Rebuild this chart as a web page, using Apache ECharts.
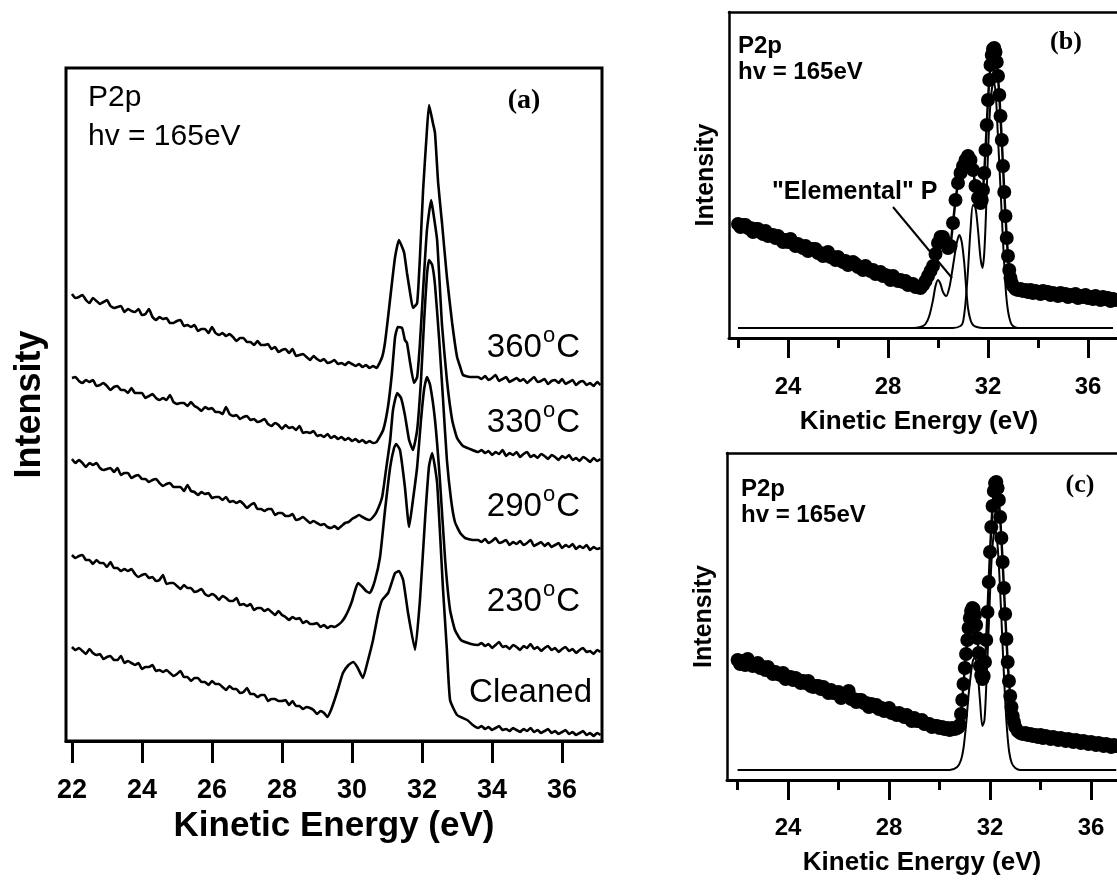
<!DOCTYPE html>
<html>
<head>
<meta charset="utf-8">
<title>P2p spectra</title>
<script src="https://cdn.jsdelivr.net/npm/echarts@6/dist/echarts.min.js"></script>
<style>
  html, body { margin: 0; padding: 0; background: #fff; }
  #main { width: 1117px; height: 882px; }
</style>
</head>
<body>
<div id="main"></div>
<script>
// tick positions
const ticksA = [22, 24, 26, 28, 30, 32, 34, 36];
const ticksMajor = [24, 28, 32, 36];
const ticksMinor = [22, 26, 30, 34];

// panel (a): [kinetic energy (eV), intensity (arb.)], curves offset vertically as in the figure
const t360 = [[22.0,447],[22.1,443],[22.2,444],[22.3,446],[22.4,441],[22.5,438],[22.6,443],[22.7,440],[22.8,437],[22.9,439],[23.0,441],[23.1,435],[23.2,433],[23.3,434],[23.4,435],[23.5,429],[23.6,432],[23.7,430],[23.8,429],[23.9,432],[24.0,426],[24.1,427],[24.2,432],[24.3,424],[24.4,421],[24.5,424],[24.6,422],[24.7,423],[24.8,418],[24.9,418],[25.0,420],[25.1,421],[25.2,415],[25.3,416],[25.4,414],[25.5,416],[25.6,410],[25.7,412],[25.8,412],[25.9,408],[26.0,414],[26.1,408],[26.2,406],[26.3,408],[26.4,405],[26.5,407],[26.6,404],[26.7,400],[26.8,403],[26.9,403],[27.0,399],[27.1,399],[27.2,396],[27.3,400],[27.4,396],[27.5,396],[27.6,397],[27.7,392],[27.8,394],[27.9,389],[28.0,391],[28.1,392],[28.2,388],[28.3,392],[28.4,385],[28.5,386],[28.6,387],[28.7,384],[28.8,381],[28.9,385],[29.0,382],
  [29.1,380],[29.2,382],[29.3,378],[29.4,379],[29.5,381],[29.6,377],[29.7,378],[29.8,376],[29.9,379],[30.0,377],[30.1,375],[30.2,377],[30.3,374],[30.4,376],[30.5,373],[30.6,375],[30.7,373],
  [30.86,384],[30.94,398],[31.03,424],[31.14,458],[31.23,484],[31.34,501],[31.43,494],[31.49,488],[31.57,468],[31.66,448],[31.74,433],[31.86,438],[31.94,484],[32.03,551],[32.14,611],[32.2,636],[32.31,618],[32.37,608],[32.46,558],[32.57,518],[32.71,464],[32.86,418],[33.0,384],[33.09,374],[33.17,366],[33.37,364],
  [33.6,364],[33.7,362],[33.8,365],[33.9,361],[34.0,363],[34.1,366],[34.2,360],[34.3,362],[34.4,364],[34.5,359],[34.6,361],[34.7,363],[34.8,360],[34.9,362],[35.0,358],[35.1,361],[35.2,364],[35.3,359],[35.4,360],[35.5,362],[35.6,357],[35.7,360],[35.8,361],[35.9,358],[36.0,362],[36.1,357],[36.2,359],[36.3,361],[36.4,356],[36.5,359],[36.6,360],[36.7,356],[36.8,358],[36.9,355],[37.0,359],[37.1,356]];
const t330 = [[22.0,363],[22.1,364],[22.2,360],[22.3,358],[22.4,361],[22.5,359],[22.6,361],[22.7,355],[22.8,356],[22.9,358],[23.0,355],[23.1,351],[23.2,354],[23.3,355],[23.4,351],[23.5,351],[23.6,348],[23.7,353],[23.8,348],[23.9,348],[24.0,348],[24.1,343],[24.2,345],[24.3,347],[24.4,343],[24.5,341],[24.6,343],[24.7,341],[24.8,346],[24.9,339],[25.0,337],[25.1,338],[25.2,338],[25.3,335],[25.4,339],[25.5,335],[25.6,333],[25.7,330],[25.8,334],[25.9,332],[26.0,333],[26.1,329],[26.2,329],[26.3,327],[26.4,334],[26.5,327],[26.6,325],[26.7,326],[26.8,322],[26.9,324],[27.0,325],[27.1,321],[27.2,322],[27.3,319],[27.4,320],[27.5,322],[27.6,317],[27.7,315],[27.8,318],[27.9,316],[28.0,312],[28.1,316],[28.2,313],[28.3,314],[28.4,311],[28.5,315],[28.6,308],[28.7,309],[28.8,308],[28.9,310],[29.0,305],
  [29.1,306],[29.2,304],[29.3,307],[29.4,303],[29.5,305],[29.6,302],[29.7,304],[29.8,301],[29.9,303],[30.0,300],[30.1,302],[30.2,299],[30.3,301],[30.4,298],[30.5,300],[30.6,298],[30.7,299],
  [30.89,311],[31.03,335],[31.14,368],[31.23,404],[31.31,414],[31.43,413],[31.51,401],[31.57,398],[31.66,378],[31.77,358],[31.86,364],[31.94,398],[32.03,451],[32.14,511],[32.26,541],[32.31,531],[32.43,501],[32.57,416],[32.71,361],[32.86,321],[33.0,303],[33.17,295],[33.37,292],
  [33.6,289],[33.7,291],[33.8,288],[33.9,290],[34.0,286],[34.1,289],[34.2,287],[34.3,291],[34.4,285],[34.5,288],[34.6,286],[34.7,289],[34.8,284],[34.9,287],[35.0,289],[35.1,284],[35.2,286],[35.3,283],[35.4,287],[35.5,285],[35.6,282],[35.7,286],[35.8,284],[35.9,281],[36.0,285],[36.1,283],[36.2,286],[36.3,281],[36.4,283],[36.5,280],[36.6,284],[36.7,282],[36.8,279],[36.9,283],[37.0,280],[37.1,282]];
const t290 = [[22.0,282],[22.1,278],[22.2,281],[22.3,278],[22.4,274],[22.5,278],[22.6,276],[22.7,278],[22.8,273],[22.9,271],[23.0,272],[23.1,273],[23.2,269],[23.3,273],[23.4,266],[23.5,268],[23.6,268],[23.7,263],[23.8,265],[23.9,266],[24.0,262],[24.1,262],[24.2,259],[24.3,261],[24.4,262],[24.5,258],[24.6,255],[24.7,257],[24.8,258],[24.9,254],[25.0,254],[25.1,254],[25.2,250],[25.3,256],[25.4,250],[25.5,249],[25.6,246],[25.7,249],[25.8,247],[25.9,248],[26.0,243],[26.1,244],[26.2,244],[26.3,241],[26.4,244],[26.5,239],[26.6,240],[26.7,238],[26.8,240],[26.9,237],[27.0,233],[27.1,236],[27.2,238],[27.3,232],[27.4,232],[27.5,230],[27.6,232],[27.7,232],[27.8,226],[27.9,228],[28.0,228],[28.1,225],[28.2,225],[28.3,227],[28.4,221],[28.5,222],[28.6,224],[28.7,221],[28.8,218],[28.9,220],[29.0,218],
  [29.1,216],[29.2,217],[29.3,214],[29.4,213],[29.5,215],[29.6,212],[29.7,215],[29.8,218],[29.9,219],[30.0,222],[30.1,224],[30.2,226],[30.3,224],[30.4,222],[30.5,221],[30.6,224],[30.7,229],
  [30.86,244],[30.97,271],[31.09,301],[31.17,331],[31.29,348],[31.4,343],[31.51,326],[31.63,301],[31.74,291],[31.86,311],[31.97,361],[32.06,421],[32.14,466],[32.2,481],[32.29,476],[32.37,456],[32.49,401],[32.6,341],[32.71,281],[32.83,241],[32.94,219],[33.09,208],[33.23,203],[33.45,201],
  [33.6,201],[33.7,199],[33.8,202],[33.9,198],[34.0,200],[34.1,203],[34.2,198],[34.3,199],[34.4,201],[34.5,196],[34.6,199],[34.7,197],[34.8,200],[34.9,196],[35.0,198],[35.1,201],[35.2,195],[35.3,197],[35.4,199],[35.5,195],[35.6,198],[35.7,194],[35.8,196],[35.9,198],[36.0,193],[36.1,196],[36.2,194],[36.3,197],[36.4,192],[36.5,195],[36.6,193],[36.7,196],[36.8,191],[36.9,194],[37.0,192],[37.1,193]];
const t230 = [[22.0,186],[22.1,183],[22.2,185],[22.3,186],[22.4,181],[22.5,181],[22.6,177],[22.7,181],[22.8,178],[22.9,178],[23.0,174],[23.1,179],[23.2,173],[23.3,173],[23.4,170],[23.5,172],[23.6,170],[23.7,172],[23.8,167],[23.9,164],[24.0,166],[24.1,167],[24.2,163],[24.3,164],[24.4,160],[24.5,161],[24.6,166],[24.7,157],[24.8,158],[24.9,158],[25.0,155],[25.1,152],[25.2,156],[25.3,153],[25.4,153],[25.5,149],[25.6,150],[25.7,152],[25.8,147],[25.9,145],[26.0,147],[26.1,145],[26.2,141],[26.3,145],[26.4,143],[26.5,140],[26.6,140],[26.7,143],[26.8,136],[26.9,137],[27.0,135],[27.1,137],[27.2,131],[27.3,133],[27.4,133],[27.5,130],[27.6,132],[27.7,129],[27.8,126],[27.9,130],[28.0,126],[28.1,124],[28.2,121],[28.3,124],[28.4,122],[28.5,123],[28.6,118],[28.7,120],[28.8,117],[28.9,117],[29.0,118],
  [29.1,114],[29.2,116],[29.3,113],[29.4,115],[29.5,114],[29.6,116],[29.7,119],[29.8,124],[29.9,131],[30.0,140],[30.1,152],[30.17,158],[30.3,154],[30.4,150],[30.51,148],[30.65,160],
  [30.8,184],[30.94,230],[31.09,274],[31.2,293],[31.26,297],[31.37,291],[31.51,254],[31.63,214],[31.74,241],[31.86,274],[31.97,321],[32.06,352],[32.14,364],[32.23,356],[32.37,321],[32.51,261],[32.66,181],[32.8,131],[32.94,111],[33.11,101],[33.4,97],
  [33.6,96],[33.7,98],[33.8,95],[33.9,97],[34.0,93],[34.1,96],[34.2,99],[34.3,94],[34.4,95],[34.5,92],[34.6,96],[34.7,94],[34.8,91],[34.9,95],[35.0,93],[35.1,97],[35.2,92],[35.3,94],[35.4,90],[35.5,93],[35.6,95],[35.7,91],[35.8,93],[35.9,89],[36.0,92],[36.1,94],[36.2,90],[36.3,92],[36.4,88],[36.5,91],[36.6,93],[36.7,89],[36.8,90],[36.9,87],[37.0,91],[37.1,89]];
const tCleaned = [[22.0,94],[22.1,91],[22.2,93],[22.3,90],[22.4,87],[22.5,92],[22.6,88],[22.7,86],[22.8,87],[22.9,82],[23.0,84],[23.1,85],[23.2,81],[23.3,81],[23.4,85],[23.5,78],[23.6,80],[23.7,78],[23.8,76],[23.9,78],[24.0,72],[24.1,74],[24.2,74],[24.3,76],[24.4,70],[24.5,71],[24.6,69],[24.7,71],[24.8,68],[24.9,65],[25.0,67],[25.1,70],[25.2,64],[25.3,64],[25.4,60],[25.5,63],[25.6,63],[25.7,59],[25.8,59],[25.9,56],[26.0,60],[26.1,57],[26.2,57],[26.3,54],[26.4,51],[26.5,55],[26.6,52],[26.7,52],[26.8,48],[26.9,49],[27.0,53],[27.1,47],[27.2,47],[27.3,44],[27.4,46],[27.5,46],[27.6,40],[27.7,42],[27.8,42],[27.9,40],[28.0,40],[28.1,41],[28.2,36],[28.3,40],[28.4,35],[28.5,35],[28.6,32],[28.7,34],[28.8,33],[28.9,31],[29.0,27],
  [29.1,30],[29.2,28],[29.3,24],[29.4,31],[29.5,41],[29.6,52],
  [29.74,68],[29.9,76],[30.03,79],[30.15,74],[30.31,63],[30.45,80],[30.6,101],[30.75,128],[30.86,141],[31.03,148],[31.13,158],[31.23,168],[31.34,170],[31.46,161],[31.6,128],[31.8,91],[31.94,141],[32.09,224],[32.2,275],[32.29,288],[32.43,258],[32.6,151],[32.71,91],[32.8,41],[33.0,26],[33.29,21],[33.45,16],
  [33.6,13],[33.7,15],[33.8,12],[33.9,14],[34.0,11],[34.1,13],[34.2,15],[34.3,11],[34.4,12],[34.5,10],[34.6,13],[34.7,11],[34.8,9],[34.9,12],[35.0,10],[35.1,13],[35.2,9],[35.3,11],[35.4,8],[35.5,10],[35.6,12],[35.7,8],[35.8,10],[35.9,7],[36.0,9],[36.1,11],[36.2,7],[36.3,9],[36.4,6],[36.5,8],[36.6,10],[36.7,6],[36.8,8],[36.9,5],[37.0,8],[37.1,6]];

// panel (b): measured points, fit components and pointer line
const bData = [[22.0,114],[22.1,111],[22.2,113],[22.3,113],[22.4,110],[22.5,110],[22.6,106],[22.7,109],[22.8,109],[22.9,106],[23.0,104],[23.1,107],[23.2,102],[23.3,103],[23.4,103],[23.5,100],[23.6,102],[23.7,99],[23.8,96],[23.9,98],[24.0,96],[24.1,99],[24.2,95],[24.3,92],[24.4,94],[24.5,92],[24.6,90],[24.7,92],[24.8,87],[24.9,89],[25.0,89],[25.1,89],[25.2,85],[25.3,85],[25.4,82],[25.5,84],[25.6,86],[25.7,81],[25.8,81],[25.9,78],[26.0,81],[26.1,78],[26.2,76],[26.3,77],[26.4,73],[26.5,75],[26.6,76],[26.7,74],[26.8,71],[26.9,71],[27.0,68],[27.1,72],[27.2,69],[27.3,67],[27.4,68],[27.5,64],[27.6,65],[27.7,66],[27.8,62],[27.9,63],[28.0,62],[28.1,58],[28.2,62],[28.3,59],[28.4,57],[28.5,58],[28.6,56],[28.7,57],[28.8,53],[28.9,54],[29.0,54],[29.1,51],[29.2,51],[29.3,50],
  [29.4,53],[29.5,57],[29.6,62],[29.7,67],[29.8,72],[29.9,84],[30.0,95],[30.1,101],[30.2,101],[30.3,95],[30.4,90],[30.5,92],[30.6,115],[30.7,138],[30.8,155],[30.9,165],[31.0,172],[31.1,178],[31.2,182],[31.3,178],[31.4,168],[31.5,152],[31.6,140],[31.7,135],
  [31.75,138],[31.8,148],[31.85,165],[31.9,188],[31.95,213],[32.0,238],[32.05,258],[32.1,273],[32.15,283],[32.2,289],[32.25,290],[32.3,286],[32.35,276],[32.4,262],[32.45,243],[32.5,222],[32.55,198],[32.6,172],[32.65,146],[32.7,122],[32.75,100],[32.8,82],[32.85,68],[32.9,60],[32.95,55],[33.0,52],[33.1,49],[33.2,48],
  [33.3,49],[33.4,47],[33.5,48],[33.6,46],[33.7,48],[33.8,45],[33.9,47],[34.0,46],[34.1,44],[34.2,47],[34.3,45],[34.4,46],[34.5,43],[34.6,45],[34.7,44],[34.8,42],[34.9,45],[35.0,43],[35.1,44],[35.2,41],[35.3,43],[35.4,42],[35.5,44],[35.6,40],[35.7,42],[35.8,41],[35.9,43],[36.0,40],[36.1,41],[36.2,39],[36.3,42],[36.4,40],[36.5,38],[36.6,41],[36.7,39],[36.8,40],[36.9,37],[37.0,39],[37.1,38]];
const bFitElem = [[22.0,10],[29.0,10],[29.3,11],[29.5,14],[29.65,22],[29.8,38],[29.9,52],[30.0,58],[30.1,54],[30.2,46],[30.33,42],[30.45,50],[30.55,64],[30.65,80],[30.75,95],[30.85,103],[30.95,96],[31.05,75],[31.12,52],[31.2,30],[31.3,18],[31.4,13],[31.55,11],[31.8,10],[37.0,10]];
const bFitSub = [[22.0,10],[30.6,10],[30.9,12],[31.0,16],[31.1,35],[31.2,68],[31.3,108],[31.4,133],[31.5,130],[31.6,108],[31.7,80],[31.78,70],[31.85,85],[31.92,125],[32.0,185],[32.08,228],[32.16,250],[32.24,256],[32.32,240],[32.4,200],[32.48,160],[32.56,118],[32.64,78],[32.72,45],[32.8,27],[32.9,16],[33.0,12],[33.2,10],[37.0,10]];
const bPointer = [[28.2,131],[30.56,60]];

// panel (c)
const cData = [[22.0,120],[22.1,116],[22.2,119],[22.3,115],[22.4,121],[22.5,116],[22.6,114],[22.7,116],[22.8,117],[22.9,112],[23.0,113],[23.1,110],[23.2,113],[23.3,109],[23.4,106],[23.5,108],[23.6,106],[23.7,105],[23.8,107],[23.9,101],[24.0,103],[24.1,103],[24.2,100],[24.3,102],[24.4,100],[24.5,97],[24.6,99],[24.7,97],[24.8,99],[24.9,94],[25.0,93],[25.1,94],[25.2,94],[25.3,91],[25.4,93],[25.5,90],[25.6,87],[25.7,90],[25.8,87],[25.9,87],[26.0,88],[26.1,82],[26.2,85],[26.3,84],[26.4,89],[26.5,81],[26.6,81],[26.7,78],[26.8,80],[26.9,80],[27.0,77],[27.1,77],[27.2,73],[27.3,76],[27.4,74],[27.5,75],[27.6,71],[27.7,72],[27.8,69],[27.9,71],[28.0,72],[28.1,67],[28.2,67],[28.3,65],[28.4,67],[28.5,65],[28.6,63],[28.7,65],[28.8,62],[28.9,59],[29.0,62],[29.1,59],[29.2,59],[29.3,60],[29.4,56],[29.5,56],[29.6,56],[29.7,53],[29.8,54],[29.9,54],[30.0,52],[30.1,53],[30.2,51],[30.3,52],[30.4,50],[30.5,52],[30.6,51],[30.7,52],[30.75,53],
  [30.8,55],[30.85,66],[30.9,80],[30.95,96],[31.0,112],[31.05,126],[31.1,140],[31.15,152],[31.2,162],[31.25,169],[31.3,172],[31.35,171],[31.4,165],[31.45,155],[31.5,142],[31.55,127],[31.6,114],[31.65,105],[31.7,101],[31.75,104],[31.8,118],[31.85,140],[31.9,168],[31.95,198],[32.0,228],[32.05,253],[32.1,274],[32.15,289],[32.2,297],[32.25,298],[32.3,292],[32.35,280],[32.4,263],[32.45,242],[32.5,218],[32.55,192],[32.6,166],[32.65,141],[32.7,118],[32.75,99],[32.8,84],[32.85,73],[32.9,64],[32.95,58],[33.0,53],[33.1,49],[33.2,47],
  [33.3,46],[33.4,47],[33.5,45],[33.6,46],[33.7,44],[33.8,45],[33.9,43],[34.0,45],[34.1,42],[34.2,44],[34.3,43],[34.4,41],[34.5,43],[34.6,42],[34.7,40],[34.8,42],[34.9,41],[35.0,39],[35.1,41],[35.2,40],[35.3,38],[35.4,40],[35.5,39],[35.6,37],[35.7,39],[35.8,38],[35.9,36],[36.0,38],[36.1,37],[36.2,35],[36.3,37],[36.4,36],[36.5,34],[36.6,36],[36.7,35],[36.8,33],[36.9,35],[37.0,34]];
const cFit = [[22.0,10],[30.4,10],[30.7,13],[30.85,20],[30.95,32],[31.05,55],[31.15,85],[31.25,108],[31.33,120],[31.4,122],[31.5,110],[31.6,80],[31.7,54],[31.78,60],[31.86,100],[31.96,160],[32.04,210],[32.12,240],[32.2,250],[32.28,240],[32.36,210],[32.44,168],[32.52,122],[32.6,80],[32.68,48],[32.76,28],[32.86,17],[33.0,12],[33.2,10],[37.0,10]];

const SANS = 'Liberation Sans, Arial, sans-serif';
const SERIF = 'Liberation Serif, Times New Roman, serif';

const chart = echarts.init(document.getElementById('main'));

// "360 °C" style label, the o raised as a superscript
function tempLabel(t, y) {
  return {
    type: 'text', x: 580, y: y,
    style: {
      text: '{n|' + t + '}{s|o}{n|C}',
      align: 'right', verticalAlign: 'middle', fill: '#000',
      rich: {
        n: { fontSize: 33, fontFamily: SANS, fill: '#000' },
        s: { fontSize: 22, fontFamily: SANS, fill: '#000', padding: [0, 1, 24, 1] }
      }
    }
  };
}
function txt(s, x, y, size, bold, family, align) {
  return {
    type: 'text', x: x, y: y,
    style: {
      text: s, fill: '#000', align: align || 'left', verticalAlign: 'middle',
      fontSize: size, fontWeight: bold ? 'bold' : 'normal', fontFamily: family || SANS
    }
  };
}

function majorAxis(gi, min, max, ticks, tickLen, lblSize, margin, nameSize, nameGap, pad) {
  return {
    gridIndex: gi, type: 'value', position: 'bottom', min: min, max: max,
    axisLine: { show: true, onZero: false, lineStyle: { color: '#000', width: 3 } },
    axisTick: { show: true, inside: false, customValues: ticks, length: tickLen, lineStyle: { color: '#000', width: 3 } },
    axisLabel: { show: true, customValues: ticks, margin: margin, fontSize: lblSize, fontWeight: 'bold', color: '#000', fontFamily: SANS },
    splitLine: { show: false },
    name: 'Kinetic Energy (eV)', nameLocation: 'middle', nameGap: nameGap,
    nameTextStyle: { fontSize: nameSize, fontWeight: 'bold', color: '#000', fontFamily: SANS, padding: pad || 0 }
  };
}
function minorAxis(gi, min, max) {
  return {
    gridIndex: gi, type: 'value', position: 'bottom', min: min, max: max,
    axisLine: { show: false, onZero: false },
    axisTick: { show: true, inside: false, customValues: ticksMinor, length: 10, lineStyle: { color: '#000', width: 3 } },
    axisLabel: { show: false },
    splitLine: { show: false }
  };
}
// top frame line of the right-hand panels (their right edge runs off the page)
function topLine(gi, min, max) {
  return {
    gridIndex: gi, type: 'value', position: 'top', min: min, max: max,
    axisLine: { show: true, onZero: false, lineStyle: { color: '#000', width: 2.5 } },
    axisTick: { show: false }, axisLabel: { show: false }, splitLine: { show: false }
  };
}
function yAx(gi, max, size, gap, frame) {
  return {
    gridIndex: gi, type: 'value', min: 0, max: max,
    axisLine: { show: !!frame, onZero: false, lineStyle: { color: '#000', width: 2.5 } },
    axisTick: { show: false }, axisLabel: { show: false }, splitLine: { show: false },
    name: 'Intensity', nameLocation: 'middle', nameGap: gap,
    nameTextStyle: { fontSize: size, fontWeight: 'bold', color: '#000', fontFamily: SANS }
  };
}
function trace(data) {
  return {
    type: 'line', xAxisIndex: 0, yAxisIndex: 0, data: data,
    showSymbol: false, smooth: 0.15,
    lineStyle: { color: '#000', width: 2.6 }
  };
}
function dots(xi, yi, data) {
  return {
    type: 'line', xAxisIndex: xi, yAxisIndex: yi, data: data,
    symbol: 'circle', symbolSize: 14, showSymbol: true,
    itemStyle: { color: '#000', borderWidth: 0 },
    lineStyle: { color: '#000', width: 2.5 }
  };
}
function fit(xi, yi, data) {
  return {
    type: 'line', xAxisIndex: xi, yAxisIndex: yi, data: data,
    showSymbol: false, smooth: 0.3, z: 3,
    lineStyle: { color: '#000', width: 2 }
  };
}

let option = {
  animation: false,
  backgroundColor: '#fff',
  grid: [
    { left: 66, top: 68, width: 536, height: 673, show: true, borderColor: '#000', borderWidth: 3 },
    { left: 729, top: 12, width: 388, height: 326 },
    { left: 727, top: 453, width: 390, height: 327 }
  ],
  xAxis: [
    majorAxis(0, 21.83, 37.14, ticksA, 22, 27, 36, 35, 68),
    majorAxis(1, 21.64, 37.16, ticksMajor, 20, 24, 37, 26, 71, [0, 8, 0, 0]),
    minorAxis(1, 21.64, 37.16),
    topLine(1, 21.64, 37.16),
    majorAxis(2, 21.58, 37.03, ticksMajor, 20, 24, 36, 26, 70),
    minorAxis(2, 21.58, 37.03),
    topLine(2, 21.58, 37.03)
  ],
  yAxis: [
    yAx(0, 673, 36, 18, false),
    yAx(1, 326, 25, 10, true),
    yAx(2, 327, 25, 10, true)
  ],
  series: [
    trace(t360), trace(t330), trace(t290), trace(t230), trace(tCleaned),
    dots(1, 1, bData), fit(1, 1, bFitElem), fit(1, 1, bFitSub), fit(1, 1, bPointer),
    dots(4, 2, cData), fit(4, 2, cFit)
  ],
  graphic: [
    txt('P2p', 88, 98, 30, false),
    txt('hv = 165eV', 88, 137, 30, false),
    txt('(a)', 524, 101, 28, true, SERIF, 'center'),
    tempLabel('360', 348),
    tempLabel('330', 423),
    tempLabel('290', 507),
    tempLabel('230', 602),
    txt('Cleaned', 592, 693, 33, false, SANS, 'right'),
    txt('P2p', 738, 46, 24, true),
    txt('hv = 165eV', 738, 72, 24, true),
    txt('(b)', 1066, 42, 26, true, SERIF, 'center'),
    txt('"Elemental" P', 772, 192, 25, true),
    txt('P2p', 741, 489, 24, true),
    txt('hv = 165eV', 741, 515, 24, true),
    txt('(c)', 1080, 485, 26, true, SERIF, 'center')
  ]
};
chart.setOption(option);
</script>
</body>
</html>
